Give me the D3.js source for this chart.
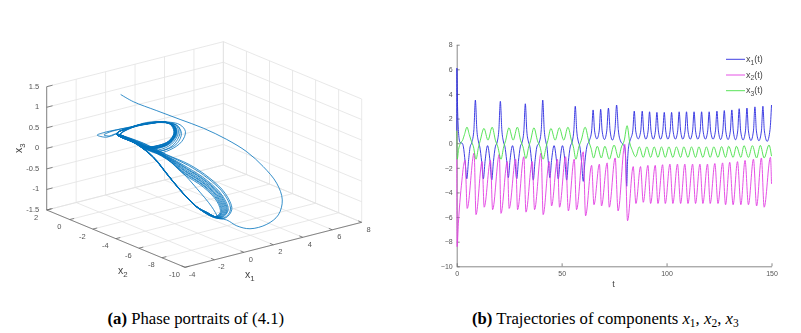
<!DOCTYPE html>
<html>
<head>
<meta charset="utf-8">
<script src="https://cdn.jsdelivr.net/npm/d3@7"></script>
<style>
    html, body { margin: 0; background: #fff; }
    svg { display: block; }
    text { font-family: "Liberation Sans", sans-serif; }
    .caption { font-family: "Liberation Serif", serif; font-size: 16.7px; fill: #000; }
    .panel { filter: blur(0.35px); }
</style>
</head>
<body>
<div class="chart"></div>
<script>
// panel (a): ticks of the 3d box
const x1Ticks = [-4, -2, 0, 2, 4, 6, 8];
const x2Ticks = [2, 0, -2, -4, -6, -8, -10];
const x3Ticks = [-1.5, -1, -0.5, 0, 0.5, 1, 1.5];

// depth along the line of sight cannot be read from a projection, x2 is an estimate
const tailX1 = [0.24, 0.71, 1.91, 2.71, 3.51, 4.31, 5.28, 6.01, 6.14, 6.02, 5.08, 3.51, 1.98, 1.47, 1.18, 1.06, -0.08, 0.36, -0.55, -1.46, -1.02, -2.38];
const tailX2 = [1, 0.5, 0, -1, -2, -3, -3.5, -4, -5, -5.64, -6.5, -7.5, -8, -7.5, -7, -6, -6, -4, -4, -4, -2, -2];
const tailX3 = [1.04, 0.88, 0.61, 0.44, 0.27, 0.04, -0.29, -0.66, -0.96, -1.28, -1.46, -1.43, -1.34, -1.28, -1.17, -1.21, -0.85, -0.71, -0.23, 0.25, 0.30, 0.67];

const lowerX2 = [-2, -4, -4, -6, -6, -6, -6, -6, -6, -4, -4, -4, -2, -2];
const lowerX1 = [
    [-0.57, -0.55, 0.62, 0.41, 1.35, 1.59, 1.16, 0.70, -0.08, 0.36, -0.55, -1.46, -1.02, -2.38],
    [-0.57, -0.55, 0.75, 0.54, 1.54, 1.86, 1.43, 0.83, -0.07, 0.37, -0.54, -1.46, -1.02, -2.38],
    [-0.57, -0.55, 0.98, 0.77, 1.86, 2.31, 1.88, 1.06, -0.08, 0.36, -0.55, -1.46, -1.02, -2.38],
    [-0.58, -0.55, 0.69, 0.48, 1.45, 1.72, 1.29, 0.77, -0.08, 0.36, -0.55, -1.45, -1.02, -2.38],
    [-0.57, -0.55, 0.86, 0.65, 1.69, 2.06, 1.63, 0.94, -0.09, 0.35, -0.56, -1.46, -1.02, -2.38],
    [-0.57, -0.54, 0.65, 0.44, 1.40, 1.65, 1.22, 0.73, -0.08, 0.36, -0.55, -1.46, -1.03, -2.38],
    [-0.56, -0.55, 0.47, -0.08, 0.94, 1.33, 1.33, 0.83, -0.08, 0.36, -0.55, -1.46, -1.02, -2.38],
    [-0.57, -0.55, 0.79, 0.58, 1.59, 1.93, 1.50, 0.87, -0.08, 0.37, -0.54, -1.46, -1.02, -2.38],
    [-0.57, -0.55, 0.93, 0.72, 1.80, 2.22, 1.79, 1.02, -0.07, 0.36, -0.55, -1.47, -1.02, -2.38],
    [-0.57, -0.55, 0.58, 0.37, 1.31, 1.52, 1.09, 0.66, -0.08, 0.36, -0.55, -1.46, -1.02, -2.38],
    [-0.58, -0.54, 0.72, 0.51, 1.50, 1.79, 1.36, 0.80, -0.08, 0.36, -0.55, -1.46, -1.01, -2.38],
    [-0.57, -0.55, 0.82, 0.61, 1.64, 1.99, 1.56, 0.90, -0.09, 0.35, -0.55, -1.46, -1.02, -2.38],
    [-0.57, -0.55, 0.89, 0.68, 1.73, 2.13, 1.70, 0.97, -0.08, 0.36, -0.55, -1.46, -1.02, -2.38],
    [-0.57, -0.56, 0.55, 0.34, 1.26, 1.45, 1.02, 0.63, -0.08, 0.36, -0.56, -1.46, -1.02, -2.38]
];
const lowerX3 = [
    [0.20, 0.13, -0.32, -0.39, -0.83, -1.14, -1.21, -1.07, -0.85, -0.71, -0.23, 0.25, 0.30, 0.67],
    [0.23, 0.17, -0.26, -0.33, -0.78, -1.14, -1.24, -1.12, -0.86, -0.72, -0.24, 0.25, 0.30, 0.67],
    [0.28, 0.23, -0.15, -0.22, -0.70, -1.13, -1.30, -1.21, -0.85, -0.71, -0.23, 0.25, 0.30, 0.67],
    [0.22, 0.15, -0.29, -0.36, -0.81, -1.14, -1.22, -1.10, -0.85, -0.72, -0.22, 0.26, 0.31, 0.67],
    [0.25, 0.20, -0.21, -0.28, -0.75, -1.13, -1.27, -1.16, -0.84, -0.71, -0.24, 0.25, 0.30, 0.67],
    [0.21, 0.14, -0.31, -0.38, -0.82, -1.14, -1.22, -1.08, -0.85, -0.70, -0.23, 0.24, 0.30, 0.67],
    [0.18, 0.12, -0.28, -0.40, -0.94, -1.22, -1.24, -1.12, -0.85, -0.71, -0.23, 0.25, 0.30, 0.67],
    [0.24, 0.18, -0.24, -0.31, -0.77, -1.14, -1.25, -1.14, -0.86, -0.71, -0.24, 0.25, 0.29, 0.67],
    [0.27, 0.22, -0.17, -0.24, -0.72, -1.13, -1.29, -1.19, -0.85, -0.71, -0.23, 0.25, 0.30, 0.67],
    [0.19, 0.13, -0.34, -0.41, -0.85, -1.14, -1.20, -1.06, -0.85, -0.72, -0.23, 0.25, 0.30, 0.67],
    [0.22, 0.16, -0.28, -0.35, -0.80, -1.14, -1.23, -1.11, -0.84, -0.71, -0.23, 0.26, 0.31, 0.67],
    [0.25, 0.19, -0.23, -0.30, -0.76, -1.14, -1.26, -1.15, -0.85, -0.70, -0.22, 0.25, 0.30, 0.67],
    [0.26, 0.21, -0.19, -0.26, -0.73, -1.13, -1.28, -1.17, -0.85, -0.71, -0.23, 0.25, 0.30, 0.67],
    [0.19, 0.12, -0.36, -0.43, -0.86, -1.14, -1.19, -1.05, -0.86, -0.71, -0.23, 0.24, 0.30, 0.67]
];

const upperX2 = -2;
const upperX1 = [
    [-1.25, -0.12, 0.90, 1.51, 1.65, 1.24, 0.45, -0.46, -1.36, -2.16],
    [-1.25, -0.12, 0.90, 1.37, 1.51, 1.15, 0.45, -0.46, -1.36, -2.16],
    [-3.06, -3.70, -3.29, -2.38, -1.25, -0.12, 0.90, 1.44, 1.58, 1.19, 0.45, -0.46, -1.36, -2.16],
    [-1.25, -0.12, 0.90, 1.58, 1.72, 1.29, 0.45, -0.46, -1.36, -2.16],
    [-1.25, -0.34, 1.02, 1.92, 2.29, 2.04, 1.24, 0.34, -0.46, -1.36, -2.16],
    [-1.25, -0.12, 0.90, 1.48, 1.62, 1.22, 0.45, -0.46, -1.36, -2.16],
    [-2.72, -3.24, -2.83, -1.25, -0.12, 0.90, 1.41, 1.55, 1.17, 0.45, -0.46, -1.36, -2.16],
    [-1.25, -0.12, 0.90, 1.67, 1.81, 1.35, 0.45, -0.46, -1.36, -2.16],
    [-1.25, -0.20, 0.98, 1.72, 2.02, 1.72, 0.95, 0.10, -0.46, -1.36, -2.16],
    [-1.25, -0.12, 0.90, 1.54, 1.68, 1.26, 0.45, -0.46, -1.36, -2.16],
    [-1.25, -0.12, 0.90, 1.78, 1.92, 1.43, 0.45, -0.46, -1.36, -2.16],
    [-1.25, -0.12, 0.90, 1.44, 1.58, 1.19, 0.45, -0.46, -1.36, -2.16],
    [-1.25, -0.12, 0.90, 1.41, 1.55, 1.17, 0.45, -0.46, -1.36, -2.16],
    [-1.25, -0.12, 0.90, 1.51, 1.65, 1.24, 0.45, -0.46, -1.36, -2.16]
];
const upperX3 = [
    [0.74, 0.72, 0.65, 0.51, 0.32, 0.13, 0.08, 0.16, 0.41, 0.62],
    [0.74, 0.72, 0.66, 0.52, 0.33, 0.17, 0.13, 0.18, 0.42, 0.62],
    [0.65, 0.76, 0.78, 0.77, 0.74, 0.72, 0.65, 0.52, 0.33, 0.15, 0.10, 0.17, 0.41, 0.62],
    [0.75, 0.73, 0.65, 0.50, 0.31, 0.11, 0.06, 0.15, 0.40, 0.62],
    [0.74, 0.76, 0.65, 0.50, 0.30, 0.08, -0.05, -0.05, 0.14, 0.41, 0.62],
    [0.73, 0.71, 0.65, 0.51, 0.32, 0.14, 0.09, 0.17, 0.42, 0.62],
    [0.65, 0.72, 0.76, 0.75, 0.73, 0.66, 0.52, 0.33, 0.16, 0.12, 0.18, 0.42, 0.62],
    [0.74, 0.73, 0.65, 0.50, 0.31, 0.08, 0.02, 0.13, 0.40, 0.62],
    [0.74, 0.74, 0.65, 0.50, 0.28, 0.06, -0.02, 0.02, 0.15, 0.41, 0.62],
    [0.75, 0.72, 0.65, 0.51, 0.32, 0.12, 0.07, 0.15, 0.41, 0.62],
    [0.74, 0.72, 0.64, 0.48, 0.29, 0.04, -0.02, 0.12, 0.40, 0.62],
    [0.73, 0.71, 0.66, 0.52, 0.33, 0.15, 0.10, 0.18, 0.42, 0.62],
    [0.74, 0.73, 0.66, 0.52, 0.33, 0.16, 0.12, 0.19, 0.43, 0.62],
    [0.73, 0.72, 0.65, 0.51, 0.32, 0.13, 0.08, 0.17, 0.41, 0.62]
];
// U = next upper loop, L = next lower loop
const visits = 'UULULULUULULULUULULULUULULLU';

// panel (b)
const tTicks = [0, 50, 100, 150];
const yTicks = [-10, -8, -6, -4, -2, 0, 2, 4, 6, 8];
const legendNames = ['1', '2', '3'];
const lineColors = ['#2a2ae0', '#e23ee2', '#46e046'];

const x1T = [0, 0.08, 0.4, 0.9, 1.6, 2.6, 3.2, 4, 4.8, 5.6, 6.4, 7.2, 8.2, 8.9, 9.6, 10.4, 11, 11.9, 12.7, 13.5, 14.7, 15.9, 16.7, 17.5, 18.4, 19.3, 20.1, 20.8, 21.5, 22.3, 23, 23.8, 24.6, 25.4, 26.6, 27.8, 28.6, 29.4, 30.3, 31.2, 32, 32.7, 33.4, 34.2, 34.9, 35.7, 36.5, 37.3, 38.2, 39.4, 40.3, 41, 41.7, 42.5, 43, 43.6, 44.4, 45.2, 46.4, 47.6, 48.4, 49.2, 50.4, 51.6, 52.4, 53.2, 54.1, 55, 55.8, 56.5, 57.2, 58, 58.7, 59.5, 60.3, 61.1, 62, 63.2, 64.3, 65, 65.7, 66.8, 67.9, 68.6, 69.3, 70.4, 71.5, 72.3, 73.1, 74.2, 75.4, 76.2, 77, 78, 79, 80, 80.6, 81, 81.4, 82, 82.8, 83.9, 84.6, 85.3, 86.5, 87.7, 88.4, 89.1, 90.15, 91.2, 91.9, 92.6, 93.65, 94.7, 95.4, 96.1, 97.15, 98.2, 98.9, 99.6, 100.65, 101.7, 102.4, 103.1, 104.2, 105.3, 106, 106.7, 107.75, 108.8, 109.5, 110.2, 111.3, 112.4, 113.1, 113.8, 114.9, 116, 116.7, 117.4, 118.5, 119.6, 120.3, 121, 122.15, 123.3, 124, 124.7, 125.75, 126.8, 127.5, 128.2, 129.3, 130.4, 131.1, 131.8, 132.85, 133.9, 134.6, 135.3, 136.45, 137.6, 138.3, 139, 140.2, 141.4, 142.1, 142.8, 144, 145.2, 145.9, 146.6, 147.95, 149.3, 150];
const x1V = [1, 6.1, 3, 0.8, 0.05, 0, -0.3, -1.5, -2.9, -1.5, -0.3, 0.05, 1.1, 3.5, 1.1, 0.1, -0.3, -1.5, -2.9, -1.5, -0.2, -1.5, -3, -1.5, -0.3, 0.1, 1.1, 3.4, 1.1, 0.1, -0.3, -1.4, -2.8, -1.4, -0.2, -1.5, -2.9, -1.5, -0.3, 0.1, 1, 3.2, 1, 0.1, -0.3, -1.5, -3, -1.5, -0.3, 0.1, 1.1, 3.5, 1.1, 0.1, -0.3, -1.4, -2.8, -1.4, -0.2, -1.5, -2.9, -1.5, -0.2, -1.5, -3, -1.5, -0.3, 0.1, 1, 3, 1, 0.1, -0.3, -1.5, -3.1, -1.5, -0.3, 0.2, 1, 2.7, 1, 0.35, 1, 2.75, 1, 0.3, 1, 2.85, 1, 0.25, 1.1, 3.1, 1.1, 0.2, -0.05, -0.3, -1.5, -3.5, -1.5, -0.2, 0.3, 1, 2.6, 1, 0.35, 1, 2.6, 1, 0.33, 1, 2.55, 1, 0.33, 1, 2.5, 1, 0.33, 1, 2.5, 1, 0.33, 1, 2.5, 1, 0.33, 1, 2.55, 1, 0.33, 1, 2.55, 1, 0.33, 1, 2.55, 1, 0.33, 1, 2.55, 1, 0.33, 1, 2.55, 1, 0.33, 1, 2.6, 1, 0.3, 1, 2.65, 1, 0.3, 1, 2.7, 1, 0.28, 1, 2.8, 1, 0.26, 1, 2.85, 1, 0.22, 1, 2.95, 1, 0.2, 1, 3, 1, 0.15, 1.1, 3.1];

const x2T = [0, 0.2, 0.8, 1.5, 2.5, 3.2, 4, 5, 8.3, 9.2, 12.1, 13.1, 16.1, 17.1, 20.3, 21.1, 24.1, 25, 28.1, 29, 32, 33, 36, 37.1, 40.2, 41.2, 44.1, 45.2, 48, 49, 51.9, 53.2, 56, 57.1, 60.3, 61.4, 64.3, 65.4, 68, 69, 71.7, 72.7, 75.5, 76.9, 80.1, 81.4, 84.1, 85.4, 87.6, 88.9, 91.1, 92.4, 94.6, 95.9, 98.1, 99.4, 101.6, 103, 105.2, 106.7, 108.7, 110.2, 112.4, 113.8, 115.9, 117.3, 119.5, 120.8, 123, 124.5, 126.7, 128.1, 130.1, 131.7, 133.8, 135.4, 137.4, 139, 141.4, 142.9, 145.2, 146.5, 149.5, 150];
const x2V = [1, -8.4, -6.5, -4.8, -3, -1.9, -1.4, -5.3, -0.8, -5.8, -1.5, -5.2, -1.4, -5.4, -0.9, -5.7, -1.5, -5.3, -1.3, -5.4, -1.1, -5.6, -1.5, -5.4, -0.8, -5.8, -1.5, -5.1, -1.3, -5.2, -1.1, -5.5, -1.3, -5.4, -0.7, -5.9, -1.8, -5, -1.7, -5.1, -1.6, -5.2, -1.2, -5.5, -0.1, -6.3, -1.9, -4.9, -1.9, -4.8, -1.8, -4.9, -1.8, -4.9, -1.75, -4.9, -1.7, -4.9, -1.7, -4.9, -1.7, -4.9, -1.7, -4.9, -1.7, -4.9, -1.7, -4.9, -1.65, -4.9, -1.6, -5, -1.55, -5, -1.5, -5, -1.4, -5, -1.3, -5.1, -1.2, -5.2, -1.15, -3.3];

const x3T = [0, 0.25, 0.9, 1.8, 2.7, 3.7, 4.9, 6, 7, 8, 9.2, 10.4, 11.2, 13, 14.9, 16.9, 18.5, 19.6, 21.1, 22.4, 23.3, 24.9, 26.9, 28.9, 30.5, 31.6, 33, 34.3, 35.2, 36.8, 38.5, 39.7, 41.2, 42.6, 43.4, 44.9, 46.9, 48.9, 51, 53, 54.7, 55.6, 56.8, 58.2, 59.3, 61.2, 63, 64, 65.2, 67, 68.9, 70.6, 72.7, 75, 77.1, 78.5, 79.8, 81.2, 82.5, 83.5, 85.3, 87, 88.9, 90.6, 92.4, 94.1, 95.9, 97.6, 99.4, 101.1, 103, 104.7, 106.7, 108.2, 110.2, 111.9, 113.8, 115.4, 117.3, 119, 120.8, 122.5, 124.5, 126.2, 128.1, 129.6, 131.7, 133.3, 135.4, 136.9, 139, 140.9, 142.9, 144.7, 146.5, 148.8, 150];
const x3V = [1, -1.3, -0.5, 0, 0.2, 0.7, 1.3, 0.7, 0.15, -0.3, -1.3, -0.3, 0.2, 1.2, 0.25, 1.3, 0.2, -0.3, -1.3, -0.3, 0.2, 1.25, 0.25, 1.3, 0.2, -0.3, -1.25, -0.3, 0.2, 1.25, 0.2, -0.3, -1.3, -0.3, 0.2, 1.2, 0.25, 1.25, 0.25, 1.3, 0.2, -0.3, -1.3, -0.3, 0.2, 1.3, 0.1, -0.4, -1.2, -0.25, -1.2, -0.25, -1.3, -0.15, -1.2, -0.3, 0.2, 1.42, 0, -0.5, -1.1, -0.3, -1.15, -0.3, -1.15, -0.3, -1.15, -0.3, -1.15, -0.3, -1.15, -0.3, -1.15, -0.3, -1.15, -0.3, -1.15, -0.3, -1.15, -0.3, -1.15, -0.3, -1.15, -0.28, -1.15, -0.25, -1.15, -0.25, -1.15, -0.2, -1.15, -0.2, -1.2, -0.18, -1.2, -0.15, -1.05];

const svg = d3.select('.chart')
    .append('svg')
    .attr('width', 801)
    .attr('height', 333);

// ---- panel (a)
const left = svg.append('g').attr('class', 'panel');

// affine view of the box, each scale gives one screen offset
const originX = 46.7, originY = 210;
const x1ToX = d3.scaleLinear().domain([-4, 8]).range([0, 176.7]);
const x1ToY = d3.scaleLinear().domain([-4, 8]).range([0, -45]);
const x2ToX = d3.scaleLinear().domain([2, -10]).range([0, 138.3]);
const x2ToY = d3.scaleLinear().domain([2, -10]).range([0, 57.3]);
const x3ToY = d3.scaleLinear().domain([-1.5, 1.5]).range([0, -123.3]);
const project = (a, b, c) => [
    originX + x1ToX(a) + x2ToX(b),
    originY + x1ToY(a) + x2ToY(b) + x3ToY(c)
];

// walls and floor
const gridLines = [];
x1Ticks.forEach(a => {
    gridLines.push([[a, 2, -1.5], [a, 2, 1.5]]);
    gridLines.push([[a, 2, -1.5], [a, -10, -1.5]]);
});
x2Ticks.forEach(b => {
    gridLines.push([[8, b, -1.5], [8, b, 1.5]]);
    gridLines.push([[-4, b, -1.5], [8, b, -1.5]]);
});
x3Ticks.forEach(c => {
    gridLines.push([[-4, 2, c], [8, 2, c]]);
    gridLines.push([[8, 2, c], [8, -10, c]]);
});
left.selectAll('.grid')
    .data(gridLines)
    .enter()
    .append('line')
    .attr('class', 'grid')
    .attr('x1', d => project(...d[0])[0])
    .attr('y1', d => project(...d[0])[1])
    .attr('x2', d => project(...d[1])[0])
    .attr('y2', d => project(...d[1])[1])
    .attr('stroke', '#e2e2e2')
    .attr('stroke-width', 0.8);

// axis lines and tick marks
const axisLines = [
    [[-4, 2, -1.5], [-4, 2, 1.5]],
    [[-4, 2, -1.5], [-4, -10, -1.5]],
    [[-4, -10, -1.5], [8, -10, -1.5]]
];
x1Ticks.forEach(a => axisLines.push([[a, -10, -1.5], [a, -9.7, -1.5]]));
x2Ticks.forEach(b => axisLines.push([[-4, b, -1.5], [-3.7, b, -1.5]]));
x3Ticks.forEach(c => axisLines.push([[-4, 2, c], [-3.6, 2, c]]));
left.selectAll('.axis-line')
    .data(axisLines)
    .enter()
    .append('line')
    .attr('class', 'axis-line')
    .attr('x1', d => project(...d[0])[0])
    .attr('y1', d => project(...d[0])[1])
    .attr('x2', d => project(...d[1])[0])
    .attr('y2', d => project(...d[1])[1])
    .attr('stroke', '#6a6a6a')
    .attr('stroke-width', 0.8);

const tickText = (sel) => sel
    .attr('font-size', 7.5)
    .attr('fill', '#555');

left.selectAll('.x1-label')
    .data(x1Ticks)
    .enter()
    .append('text')
    .attr('class', 'x1-label')
    .attr('x', d => project(d, -10, -1.5)[0] + 7)
    .attr('y', d => project(d, -10, -1.5)[1] + 9.5)
    .attr('text-anchor', 'middle')
    .text(d => d)
    .call(tickText);
left.selectAll('.x2-label')
    .data(x2Ticks)
    .enter()
    .append('text')
    .attr('class', 'x2-label')
    .attr('x', d => project(-4, d, -1.5)[0] - 10.5)
    .attr('y', d => project(-4, d, -1.5)[1] + 9.5)
    .attr('text-anchor', 'middle')
    .text(d => d)
    .call(tickText);
left.selectAll('.x3-label')
    .data(x3Ticks)
    .enter()
    .append('text')
    .attr('class', 'x3-label')
    .attr('x', d => project(-4, 2, d)[0] - 7.5)
    .attr('y', d => project(-4, 2, d)[1] + 2)
    .attr('text-anchor', 'end')
    .text(d => d)
    .call(tickText);

// x with a subscript, optional trailing text
const subLabel = (parent, x, y, size, sub, tail) => {
    const t = parent.append('text')
        .attr('x', x)
        .attr('y', y)
        .attr('font-size', size)
        .attr('fill', '#444');
    t.append('tspan').text('x');
    t.append('tspan').attr('dy', size * 0.3).attr('font-size', size * 0.75).text(sub);
    if (tail) {
        t.append('tspan').attr('dy', -size * 0.3).text(tail);
    }
    return t;
};
subLabel(left, 118, 274, 10.5, '2');
subLabel(left, 245, 278, 10.5, '1');
subLabel(left, 0, 0, 10.5, '3').attr('transform', 'translate(22,153) rotate(-90)');

// trajectory: tail, then the loops in visiting order
const phasePoints = tailX1.map((a, i) => project(a, tailX2[i], tailX3[i]));
let nextUpper = 0, nextLower = 0;
visits.split('').forEach(v => {
    if (v === 'U') {
        const k = nextUpper++ % upperX1.length;
        upperX1[k].forEach((a, i) => phasePoints.push(project(a, upperX2, upperX3[k][i])));
    } else {
        const k = nextLower++ % lowerX1.length;
        lowerX1[k].forEach((a, i) => phasePoints.push(project(a, lowerX2[i], lowerX3[k][i])));
    }
});
left.append('path')
    .attr('d', d3.line().curve(d3.curveCatmullRom.alpha(0.5))(phasePoints))
    .attr('fill', 'none')
    .attr('stroke', '#0072BD')
    .attr('stroke-width', 0.8);

// ---- panel (b)
const right = svg.append('g').attr('class', 'panel');
const tScale = d3.scaleLinear().domain([0, 150]).range([456.7, 771.5]);
const yScale = d3.scaleLinear().domain([-10, 8]).range([266.3, 44.7]);

const yAxis = right.append('g')
    .attr('transform', 'translate(456.7,0)')
    .call(d3.axisLeft(yScale).tickValues(yTicks).tickSizeInner(-3).tickSizeOuter(0).tickPadding(4));
const xAxis = right.append('g')
    .attr('transform', 'translate(0,266.3)')
    .call(d3.axisBottom(tScale).tickValues(tTicks).tickSizeInner(-3).tickSizeOuter(0).tickPadding(5));
[yAxis, xAxis].forEach(a => {
    a.selectAll('path, line').attr('stroke', '#6a6a6a').attr('stroke-width', 0.8);
    a.selectAll('text').attr('font-size', 7).attr('fill', '#555').attr('font-family', '"Liberation Sans", sans-serif');
});

right.append('text')
    .attr('x', 613.5)
    .attr('y', 287)
    .attr('text-anchor', 'middle')
    .attr('font-size', 9)
    .attr('fill', '#444')
    .text('t');

const seriesLine = d3.line()
    .x(d => tScale(d[0]))
    .y(d => yScale(d[1]))
    .curve(d3.curveMonotoneX);
[[x1T, x1V], [x2T, x2V], [x3T, x3V]].forEach((s, i) => {
    right.append('path')
        .attr('d', seriesLine(s[0].map((t, j) => [t, s[1][j]])))
        .attr('fill', 'none')
        .attr('stroke', lineColors[i])
        .attr('stroke-width', 1)
        .attr('stroke-opacity', 0.9);
});

// legend
legendNames.forEach((n, i) => {
    const y = 59.3 + i * 15.7;
    right.append('line')
        .attr('x1', 726)
        .attr('x2', 745)
        .attr('y1', y)
        .attr('y2', y)
        .attr('stroke', lineColors[i])
        .attr('stroke-width', 0.9);
    subLabel(right, 746, y + 2.5, 9, n, '(t)');
});

// ---- captions
const capA = svg.append('text')
    .attr('class', 'caption')
    .attr('x', 107.5)
    .attr('y', 324);
capA.append('tspan').attr('font-weight', 'bold').text('(a)');
capA.append('tspan').text(' Phase portraits of (4.1)');

const capB = svg.append('text')
    .attr('class', 'caption')
    .attr('x', 472)
    .attr('y', 324);
capB.append('tspan').attr('font-weight', 'bold').text('(b)');
capB.append('tspan').text(' Trajectories of components ');
['1', '2', '3'].forEach((n, i) => {
    capB.append('tspan').attr('font-style', 'italic').text('x');
    capB.append('tspan').attr('dy', 3).attr('font-size', 11.5).text(n);
    capB.append('tspan').attr('dy', -3).text(i < 2 ? ', ' : '');
});
</script>
</body>
</html>
